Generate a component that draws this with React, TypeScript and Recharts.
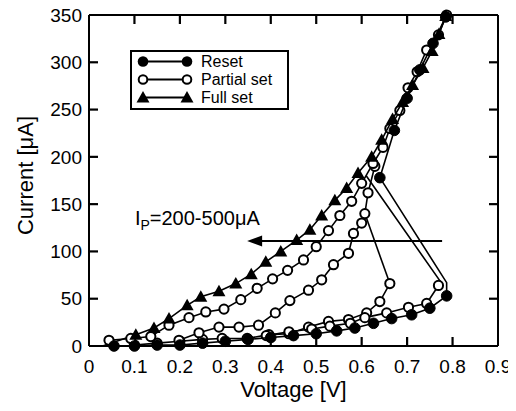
import React from 'react';
import { ScatterChart, Scatter, XAxis, YAxis, Legend, ReferenceDot } from 'recharts';

const FONT = '"Liberation Sans", Arial, Helvetica, sans-serif';

const X_TICKS = [0, 0.1, 0.2, 0.3, 0.4, 0.5, 0.6, 0.7, 0.8, 0.9];
const Y_TICKS = [0, 50, 100, 150, 200, 250, 300, 350];
const X_MIN = 0;
const X_MAX = 0.9;
const Y_MIN = 0;
const Y_MAX = 350;
const LEGEND_LABELS = ['Reset', 'Partial set', 'Full set'];

// [voltage V, current µA]
const RESET: number[][] = [
  [0.055, 0], [0.1, 0], [0.15, 1], [0.2, 1], [0.25, 3], [0.3, 5], [0.35, 7], [0.4, 9],
  [0.45, 11], [0.5, 13], [0.545, 16], [0.585, 19], [0.626, 24], [0.666, 29], [0.71, 33],
  [0.75, 40], [0.787, 53],
];
const RESET_SNAP: number[][] = [[0.787, 53], [0.787, 67], [0.64, 178]];
const RESET_ON: number[][] = [[0.64, 178], [0.672, 228], [0.7, 262], [0.728, 292], [0.757, 320], [0.785, 348]];

const PARTIAL_UPPER: number[][] = [
  [0.044, 6], [0.092, 8], [0.136, 10], [0.176, 22], [0.22, 30], [0.257, 36], [0.297, 39],
  [0.334, 49], [0.37, 61], [0.404, 71], [0.437, 80], [0.472, 91], [0.5, 105], [0.527, 122],
  [0.552, 138], [0.578, 153], [0.6, 172], [0.625, 193], [0.647, 210], [0.662, 230],
  [0.684, 249], [0.702, 273], [0.722, 290], [0.743, 313], [0.769, 329], [0.787, 350],
];
const PARTIAL_MIDDLE: number[][] = [
  [0.198, 6], [0.242, 14], [0.286, 20], [0.33, 20], [0.373, 22], [0.41, 35], [0.442, 48],
  [0.483, 59], [0.512, 70], [0.538, 86], [0.571, 98], [0.582, 119], [0.6, 130], [0.607, 140],
  [0.614, 162], [0.629, 190],
];
const PARTIAL_LOW_A: number[][] = [
  [0.1, 1], [0.15, 3], [0.2, 5], [0.25, 7], [0.293, 8], [0.348, 8], [0.396, 12], [0.44, 13],
  [0.483, 20], [0.527, 26], [0.571, 28], [0.611, 35], [0.64, 47], [0.662, 66],
];
const PARTIAL_LOW_A_SNAP: number[][] = [[0.662, 66], [0.607, 140]];
const PARTIAL_LOW_B: number[][] = [
  [0.39, 11], [0.44, 15], [0.49, 18], [0.53, 21], [0.575, 24], [0.607, 30], [0.655, 35],
  [0.703, 41], [0.743, 45], [0.769, 64],
];
const PARTIAL_LOW_B_SNAP: number[][] = [[0.769, 64], [0.775, 67], [0.61, 180]];

const FULL_SET: number[][] = [
  [0.103, 12], [0.143, 19], [0.176, 29], [0.216, 43], [0.246, 52], [0.286, 58], [0.323, 66],
  [0.357, 76], [0.389, 89], [0.422, 100], [0.457, 112], [0.486, 123], [0.512, 138],
  [0.541, 154], [0.567, 167], [0.592, 183], [0.622, 200], [0.644, 218], [0.668, 240],
  [0.69, 258], [0.712, 276], [0.735, 294], [0.755, 312], [0.77, 330], [0.785, 349],
];
const FULL_SET_LEAD: number[][] = [[0.03, 0], [0.103, 12]];

const ARROW: number[][] = [[0.777, 111], [0.36, 111]];
const ARROW_TIP = [0.348, 111];
const NOTE_POS = [0.101, 128];

const W = 516;
const H = 411;
const M = { top: 14, right: 17, bottom: 5, left: 29 };
const TL = 9; // tick length px

const toPts = (arr: number[][]) => arr.map(([v, i]) => ({ v, i }));

const FilledCircle = (p: any) => <circle cx={p.cx} cy={p.cy} r={5.3} fill="#000" stroke="#000" strokeWidth={1} />;
const OpenCircle = (p: any) => <circle cx={p.cx} cy={p.cy} r={4.6} fill="#fff" stroke="#000" strokeWidth={2} />;
const Triangle = (p: any) => (
  <polygon points={`${p.cx},${p.cy - 6.5} ${p.cx + 6.5},${p.cy + 5} ${p.cx - 6.5},${p.cy + 5}`} fill="#000" />
);
const NoMark = () => <g />;

const UpTick = (p: any) => <line x1={p.cx} x2={p.cx} y1={p.cy} y2={p.cy - TL} stroke="#000" strokeWidth={2.2} />;
const DownTick = (p: any) => <line x1={p.cx} x2={p.cx} y1={p.cy} y2={p.cy + TL} stroke="#000" strokeWidth={2.2} />;
const RightwardTick = (p: any) => <line x1={p.cx} x2={p.cx + TL} y1={p.cy} y2={p.cy} stroke="#000" strokeWidth={2.2} />;
const LeftwardTick = (p: any) => <line x1={p.cx} x2={p.cx - TL} y1={p.cy} y2={p.cy} stroke="#000" strokeWidth={2.2} />;

const LegendBox = () => {
  const rows = [11.5, 29.5, 47.5];
  const marks = [
    (x: number, y: number) => <circle key={x} cx={x} cy={y} r={5.3} fill="#000" />,
    (x: number, y: number) => <circle key={x} cx={x} cy={y} r={4.3} fill="#fff" stroke="#000" strokeWidth={2} />,
    (x: number, y: number) => (
      <polygon key={x} points={`${x},${y - 6.5} ${x + 6.5},${y + 5} ${x - 6.5},${y + 5}`} fill="#000" />
    ),
  ];
  return (
    <svg width={160} height={61} style={{ display: 'block' }}>
      <rect x={1} y={1} width={157} height={58} fill="#fff" stroke="#000" strokeWidth={2} />
      {LEGEND_LABELS.map((label, k) => (
        <g key={label}>
          <line x1={13} x2={57} y1={rows[k]} y2={rows[k]} stroke="#000" strokeWidth={2} />
          {marks[k](13, rows[k])}
          {marks[k](57, rows[k])}
          <text x={71} y={rows[k]} dy="0.36em" fontSize={16} fill="#000" fontFamily={FONT}>
            {label}
          </text>
        </g>
      ))}
    </svg>
  );
};

const lineStyle = { stroke: '#000', strokeWidth: 1.6 };
const axisLineStyle = { stroke: '#000', strokeWidth: 2 };
const tickTextStyle = { fontSize: 19, fill: '#000', fontFamily: FONT };

export default function App() {
  return (
    <div style={{ fontFamily: FONT, margin: '-8px 0 0 -8px', width: W, height: H }}>
      <ScatterChart width={W} height={H} margin={M}>
        <XAxis
          xAxisId="b"
          type="number"
          dataKey="v"
          domain={[X_MIN, X_MAX]}
          ticks={X_TICKS}
          interval={0}
          height={60}
          tickSize={0}
          tickMargin={14}
          tickLine={false}
          axisLine={axisLineStyle}
          tick={tickTextStyle}
          label={{ value: 'Voltage [V]', position: 'insideBottom', offset: 9, style: { fontSize: 22, fill: '#000', fontFamily: FONT } }}
        />
        <XAxis
          xAxisId="t"
          orientation="top"
          type="number"
          dataKey="v"
          domain={[X_MIN, X_MAX]}
          ticks={X_TICKS}
          interval={0}
          height={1}
          tickSize={0}
          tickLine={false}
          axisLine={axisLineStyle}
          tick={false}
        />
        <YAxis
          yAxisId="l"
          type="number"
          dataKey="i"
          domain={[Y_MIN, Y_MAX]}
          ticks={Y_TICKS}
          interval={0}
          width={60}
          tickSize={0}
          tickMargin={7}
          tickLine={false}
          axisLine={axisLineStyle}
          tick={tickTextStyle}
          label={{ value: 'Current [\u03bcA]', angle: -90, position: 'insideLeft', offset: -4, dy: -5, style: { textAnchor: 'middle', fontSize: 22, fill: '#000', fontFamily: FONT } }}
        />
        <YAxis
          yAxisId="r"
          orientation="right"
          type="number"
          dataKey="i"
          domain={[Y_MIN, Y_MAX]}
          ticks={Y_TICKS}
          interval={0}
          width={1}
          tickSize={0}
          tickLine={false}
          axisLine={axisLineStyle}
          tick={false}
        />

        {X_TICKS.slice(1, -1).map((v) => (
          <ReferenceDot key={`xb${v}`} xAxisId="b" yAxisId="l" x={v} y={Y_MIN} shape={UpTick} ifOverflow="visible" />
        ))}
        {X_TICKS.slice(1, -1).map((v) => (
          <ReferenceDot key={`xt${v}`} xAxisId="b" yAxisId="l" x={v} y={Y_MAX} shape={DownTick} ifOverflow="visible" />
        ))}
        {Y_TICKS.slice(1, -1).map((i) => (
          <ReferenceDot key={`yl${i}`} xAxisId="b" yAxisId="l" x={X_MIN} y={i} shape={RightwardTick} ifOverflow="visible" />
        ))}
        {Y_TICKS.slice(1, -1).map((i) => (
          <ReferenceDot key={`yr${i}`} xAxisId="b" yAxisId="l" x={X_MAX} y={i} shape={LeftwardTick} ifOverflow="visible" />
        ))}

        <Scatter xAxisId="t" yAxisId="r" data={toPts(ARROW)} line={{ stroke: '#000', strokeWidth: 2 }} shape={NoMark} legendType="none" isAnimationActive={false} />

        <Scatter xAxisId="b" yAxisId="l" data={toPts(PARTIAL_LOW_A_SNAP)} line={lineStyle} shape={NoMark} legendType="none" isAnimationActive={false} />
        <Scatter xAxisId="b" yAxisId="l" data={toPts(PARTIAL_LOW_B_SNAP)} line={lineStyle} shape={NoMark} legendType="none" isAnimationActive={false} />
        <Scatter xAxisId="b" yAxisId="l" data={toPts(RESET_SNAP)} line={lineStyle} shape={NoMark} legendType="none" isAnimationActive={false} />
        <Scatter xAxisId="b" yAxisId="l" data={toPts(FULL_SET_LEAD)} line={lineStyle} shape={NoMark} legendType="none" isAnimationActive={false} />

        <Scatter xAxisId="b" yAxisId="l" name="Partial set" data={toPts(PARTIAL_LOW_A)} line={lineStyle} shape={OpenCircle} isAnimationActive={false} />
        <Scatter xAxisId="b" yAxisId="l" data={toPts(PARTIAL_LOW_B)} line={lineStyle} shape={OpenCircle} legendType="none" isAnimationActive={false} />
        <Scatter xAxisId="b" yAxisId="l" data={toPts(PARTIAL_MIDDLE)} line={lineStyle} shape={OpenCircle} legendType="none" isAnimationActive={false} />
        <Scatter xAxisId="b" yAxisId="l" data={toPts(PARTIAL_UPPER)} line={lineStyle} shape={OpenCircle} legendType="none" isAnimationActive={false} />
        <Scatter xAxisId="b" yAxisId="l" name="Reset" data={toPts(RESET)} line={lineStyle} shape={FilledCircle} isAnimationActive={false} />
        <Scatter xAxisId="b" yAxisId="l" data={toPts(RESET_ON)} line={lineStyle} shape={FilledCircle} legendType="none" isAnimationActive={false} />
        <Scatter xAxisId="b" yAxisId="l" name="Full set" data={toPts(FULL_SET)} line={lineStyle} shape={Triangle} isAnimationActive={false} />

        <ReferenceDot
          xAxisId="b"
          yAxisId="l"
          x={ARROW_TIP[0]}
          y={ARROW_TIP[1]}
          shape={(p: any) => (
            <polygon points={`${p.cx},${p.cy} ${p.cx + 15},${p.cy - 5.5} ${p.cx + 15},${p.cy + 5.5}`} fill="#000" />
          )}
        />
        <ReferenceDot
          xAxisId="b"
          yAxisId="l"
          x={NOTE_POS[0]}
          y={NOTE_POS[1]}
          shape={(p: any) => (
            <text x={p.cx} y={p.cy} fontSize={20} fill="#000" fontFamily={FONT}>
              I
              <tspan fontSize={14} dy={5}>P</tspan>
              <tspan dy={-5}>=200-500{'\u03bc'}A</tspan>
            </text>
          )}
        />

        <Legend
          layout="vertical"
          align="center"
          verticalAlign="middle"
          wrapperStyle={{ position: 'absolute', left: 130, top: 50, width: 160, height: 61 }}
          content={LegendBox}
        />
      </ScatterChart>
    </div>
  );
}
